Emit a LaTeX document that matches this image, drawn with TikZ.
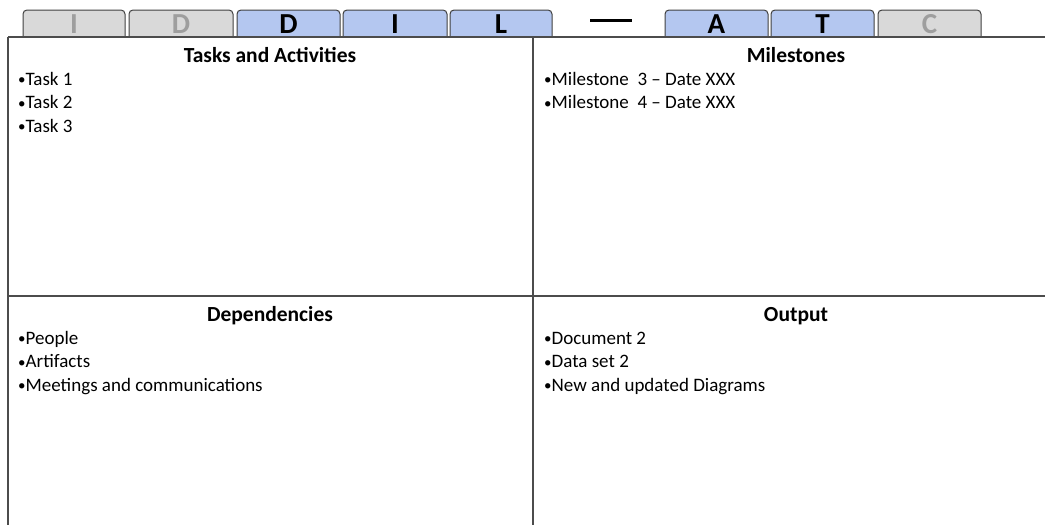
\documentclass[tikz,border=0pt]{standalone}
\usepackage{fontspec}
\setmainfont{Carlito}
\newcommand{\smallbullet}{\raisebox{0.5pt}{\fontsize{15}{15}\selectfont•}}
\begin{document}
\begin{tikzpicture}[x=1pt,y=-1pt,
  tabbox/.style={draw=black!75,line width=1pt,rounded corners=4pt},
  grayfill/.style={fill=black!15},
  bluefill/.style={fill={rgb,255:red,180;green,199;blue,240}},
  grayletter/.style={text=black!38,font=\fontsize{29}{29}\selectfont\bfseries},
  blackletter/.style={text=black,font=\fontsize{29}{29}\selectfont\bfseries},
  frame/.style={draw=black!70,line width=1.3pt},
  head/.style={anchor=base,font=\fontsize{21.5}{24}\selectfont\bfseries},
  item/.style={anchor=base west,font=\fontsize{19}{22}\selectfont,inner sep=0pt}]
\useasboundingbox (0,0) rectangle (1045,525);
% tabs
\foreach \xa/\xb/\f/\s/\t [count=\i] in {23/125/grayfill/grayletter/I,129/233/grayfill/grayletter/D,237/340/bluefill/blackletter/D,343/447/bluefill/blackletter/I,450/552/bluefill/blackletter/L,665/768/bluefill/blackletter/A,771/874/bluefill/blackletter/T,878/981/grayfill/grayletter/C}{
  \draw[tabbox,\f] (\xa,37) |- (\xb,10) -- (\xb,37);
  \node[\s,anchor=base,inner sep=0pt] (tab\i) at ({(\xa+\xb)/2},33.5) {\t};
}
\coordinate (dashL) at (590,20);
\coordinate (dashR) at (632,20);
\draw[line width=3pt] (dashL) -- (dashR);
% frame
\coordinate (tl) at (8,37);
\coordinate (tr) at (1045,37);
\coordinate (bl) at (8,525);
\coordinate (ml) at (8,296);
\coordinate (mr) at (1045,296);
\coordinate (mt) at (533,37);
\coordinate (mb) at (533,525);
\draw[frame] (tl) -- (tr);
\draw[frame] (tl) -- (bl);
\draw[frame] (ml) -- (mr);
\draw[frame] (mt) -- (mb);
% headers
\node[head] (h1) at (270,62) {Tasks and Activities};
\node[head] (h2) at (796,62) {Milestones};
\node[head] (h3) at (270,321) {Dependencies};
\node[head] (h4) at (796,321) {Output};
% items
\node[item] (t1) at (18,85) {\smallbullet Task 1};
\node[item] (t2) at (18,108.5) {\smallbullet Task 2};
\node[item] (t3) at (18,132) {\smallbullet Task 3};
\node[item] (m1) at (544,85) {\smallbullet Milestone\ \ 3 – Date XXX};
\node[item] (m2) at (544,108.5) {\smallbullet Milestone\ \ 4 – Date XXX};
\node[item] (d1) at (18,344) {\smallbullet People};
\node[item] (d2) at (18,367.5) {\smallbullet Artifacts};
\node[item] (d3) at (18,391) {\smallbullet Meetings and communications};
\node[item] (o1) at (544,344) {\smallbullet Document 2};
\node[item] (o2) at (544,367.5) {\smallbullet Data set 2};
\node[item] (o3) at (544,391) {\smallbullet New and updated Diagrams};
\end{tikzpicture}
\end{document}
